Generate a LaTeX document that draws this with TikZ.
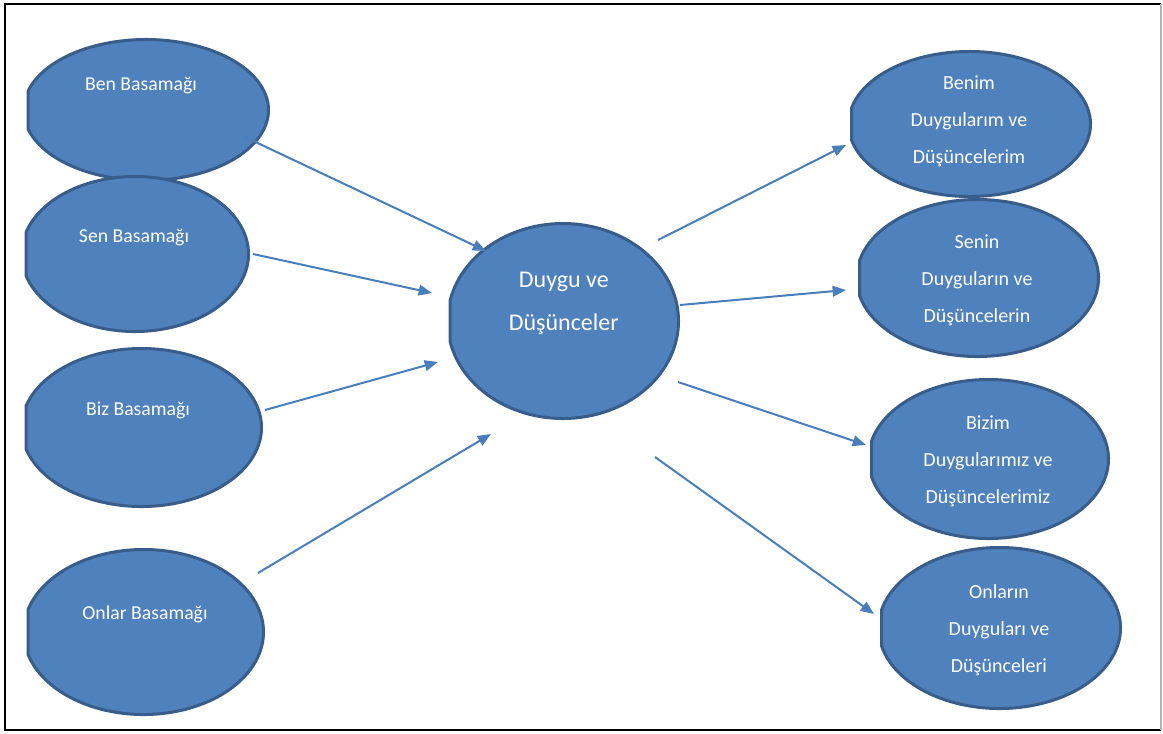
\documentclass[tikz,border=0pt]{standalone}
\usepackage{fontspec}
\setmainfont{Carlito}
\usetikzlibrary{arrows.meta}
\definecolor{bubfill}{HTML}{4F81BD}
\definecolor{bubline}{HTML}{385D8A}
\definecolor{arrowcol}{HTML}{4A7EBB}
\tikzset{
  bub/.style={fill=bubfill, draw=bubline, line width=2.25pt, line join=round},
  lefttxt/.style={text=white, font=\fontsize{14.8}{18}\selectfont, inner sep=0pt},
  midtxt/.style={text=white, font=\fontsize{18}{32.25}\selectfont, align=center, inner sep=0pt},
  righttxt/.style={text=white, font=\fontsize{15}{27.75}\selectfont, align=center, inner sep=0pt},
  conn/.style={draw=arrowcol, line width=1.5pt, -{Triangle[length=10pt,width=8pt]}},
  frame/.style={line width=1.5pt}
}
% ellipse (centre #1,#2; radii #3,#4) with its left side cut flat at depth #5
\newcommand\flatell[5]{%
  \pgfmathsetmacro\flatphi{acos(1-#5/#3)}%
  \draw[bub] (#1,#2) ++({180-\flatphi}:#3 and #4)
    arc[start angle={180-\flatphi}, end angle={-180+\flatphi}, x radius=#3, y radius=#4]
    -- cycle;}
\begin{document}
\begin{tikzpicture}[x=0.75pt,y=-0.75pt]
\useasboundingbox (0,0) rectangle (1163,733);
\fill[white] (0,0) rectangle (1163,733);
% frame
\draw[frame, black] (1161,4) -- (5,4) -- (5,730) -- (1161,730);
\draw[frame, gray!60] (1161,4) -- (1161,730);

% left ellipses
\flatell{146}{110}{122.5}{70.5}{4.5}
\flatell{135}{254}{113.5}{77.5}{4.5}
\flatell{141.5}{427.5}{120}{79}{4.5}
\flatell{143.5}{632}{120}{82.5}{4.5}
% centre
\flatell{563}{321}{115.5}{97.5}{2.5}
% right ellipses
\flatell{969.5}{124}{121}{72.5}{3}
\flatell{977.5}{278}{121}{78.5}{3}
\flatell{988.5}{459}{120}{79.5}{3}
\flatell{999.5}{628}{121}{80.5}{3}

% texts
\node[lefttxt] (ben) at (141,86) {Ben Basamağı};
\node[lefttxt] (sen) at (134,238) {Sen Basamağı};
\node[lefttxt] (biz) at (138,410) {Biz Basamağı};
\node[lefttxt] (onlar) at (145,614) {Onlar Basamağı};
\node[midtxt] (duygu) at (563.8,303.7) {Duygu ve\\Düşünceler};
\node[righttxt] (benim) at (969,121.3) {Benim\\Duygularım ve\\Düşüncelerim};
\node[righttxt] (senin) at (977,280.7) {Senin\\Duyguların ve\\Düşüncelerin};
\node[righttxt] (bizim) at (988,461.7) {Bizim\\Duygularımız ve\\Düşüncelerimiz};
\node[righttxt] (onlarin) at (999,630.7) {Onların\\Duyguları ve\\Düşünceleri};

% connector end points
\coordinate (a1s) at (245,137); \coordinate (a1e) at (486,251);
\coordinate (a2s) at (253,254); \coordinate (a2e) at (432,293);
\coordinate (a3s) at (265,410); \coordinate (a3e) at (438,362);
\coordinate (a4s) at (258,573); \coordinate (a4e) at (491,434);
\coordinate (b1s) at (658,240); \coordinate (b1e) at (846,145);
\coordinate (b2s) at (680,305); \coordinate (b2e) at (846,290);
\coordinate (b3s) at (678,382); \coordinate (b3e) at (866,445);
\coordinate (b4s) at (655,457); \coordinate (b4e) at (874,614);

\draw[conn] (a1s) -- (a1e);
\draw[conn] (a2s) -- (a2e);
\draw[conn] (a3s) -- (a3e);
\draw[conn] (a4s) -- (a4e);
\draw[conn] (b1s) -- (b1e);
\draw[conn] (b2s) -- (b2e);
\draw[conn] (b3s) -- (b3e);
\draw[conn] (b4s) -- (b4e);
\end{tikzpicture}
\end{document}
